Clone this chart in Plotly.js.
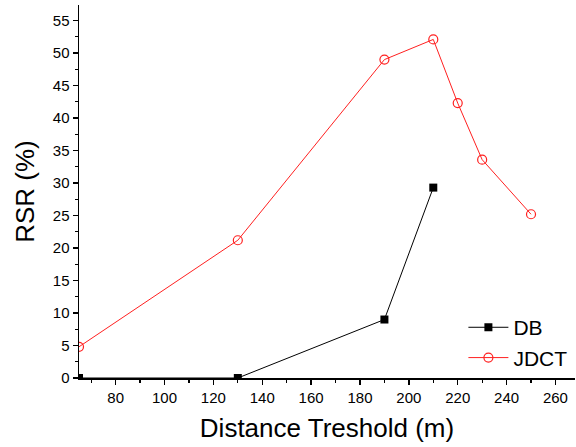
<!DOCTYPE html>
<html><head><meta charset="utf-8">
<script src="https://cdn.plot.ly/plotly-3.0.1.min.js"></script>
<style>html,body{margin:0;padding:0;background:#fff;}#chart{width:576px;height:447px;}</style>
</head><body><div id="chart"></div>
<script>
const dbX = [65, 130, 190, 210];
const dbY = [0, 0, 9.0, 29.3];
const jdctX = [65, 130, 190, 210, 220, 230, 250];
const jdctY = [4.8, 21.2, 49.0, 52.1, 42.3, 33.6, 25.2];

const traces = [
  {x: dbX, y: dbY, name: 'DB', mode: 'lines+markers', type: 'scatter',
   line: {color: '#000', width: 1}, marker: {symbol: 'square', size: 8, color: '#000'}},
  {x: jdctX, y: jdctY, name: 'JDCT', mode: 'lines+markers', type: 'scatter',
   line: {color: '#ff2020', width: 1}, marker: {symbol: 'circle-open', size: 9, color: '#ff2020', line: {width: 1.2}}}
];
const font = 'Liberation Sans, Arial, sans-serif';
const layout = {
  width: 576, height: 447,
  margin: {l: 79, r: 1, t: 5, b: 69},
  paper_bgcolor: '#fff', plot_bgcolor: '#fff',
  font: {family: font, color: '#000'},
  showlegend: true,
  legend: {x: 0.775, y: 0.19, xanchor: 'left', yanchor: 'top', font: {size: 21, family: font}, bgcolor: 'rgba(0,0,0,0)', tracegroupgap: 0, itemwidth: 40},
  xaxis: {range: [65, 268], dtick: 20, tick0: 0, showgrid: false, zeroline: false,
    showline: true, linecolor: '#000', linewidth: 1.5, ticks: 'outside', ticklen: 5, tickwidth: 1.5, tickcolor: '#000',
    tickfont: {size: 15, family: font},
    minor: {dtick: 10, ticks: 'outside', ticklen: 3, tickwidth: 1.2, tickcolor: '#000', showgrid: false},
    title: {text: 'Distance Treshold (m)', font: {size: 26, family: font}, standoff: 14}},
  yaxis: {range: [0, 57.4], dtick: 5, tick0: 0, showgrid: false, zeroline: false,
    showline: true, linecolor: '#000', linewidth: 1.5, ticks: 'outside', ticklen: 5, tickwidth: 1.5, tickcolor: '#000',
    tickfont: {size: 15, family: font},
    minor: {dtick: 2.5, ticks: 'outside', ticklen: 3, tickwidth: 1.2, tickcolor: '#000', showgrid: false},
    title: {text: 'RSR (%)', font: {size: 26, family: font}, standoff: 10}}
};
Plotly.newPlot('chart', traces, layout, {displayModeBar: false, staticPlot: true});
</script></body></html>
